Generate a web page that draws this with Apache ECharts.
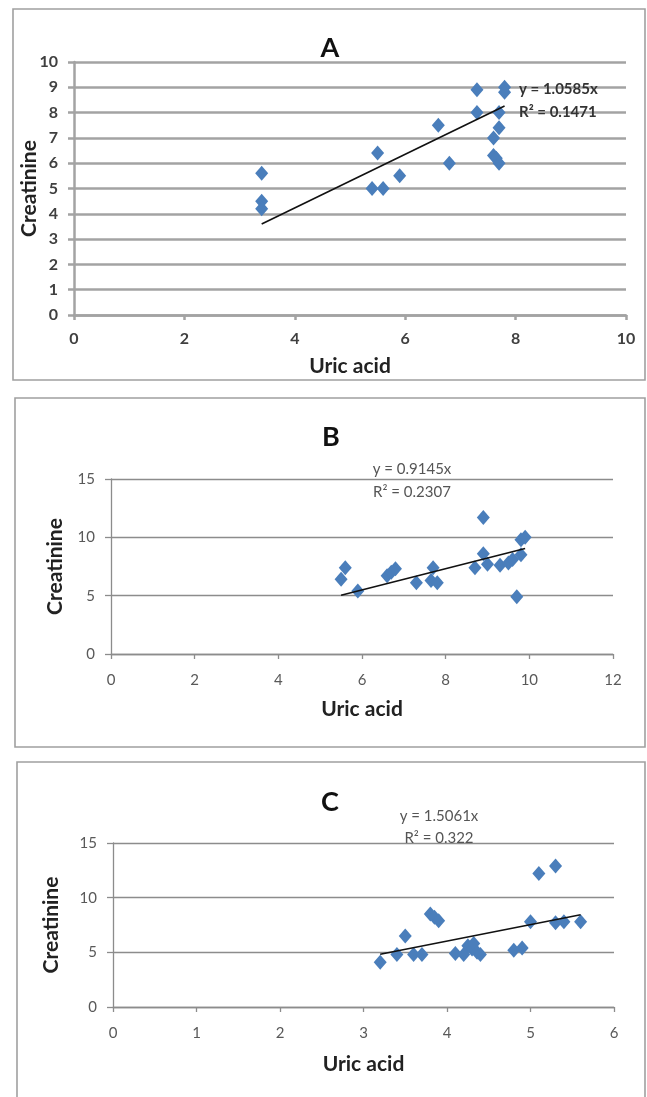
<!DOCTYPE html>
<html lang="en">
<head>
    <meta charset="utf-8"/>
    <script src="https://cdn.jsdelivr.net/npm/echarts@6/dist/echarts.min.js"></script>
    <style>
        html, body { margin: 0; padding: 0; background: #fff; }
        #main { width: 647px; height: 1097px; }
    </style>
</head>
<body>
<div id="main"></div>
<script>
    // panel A
    var uricA = [3.4, 3.4, 3.4, 5.5, 5.4, 5.6, 5.9, 6.6, 6.8, 7.3, 7.3, 7.8, 7.8, 7.7, 7.7, 7.6, 7.6, 7.65, 7.7];
    var creatA = [5.6, 4.5, 4.2, 6.4, 5.0, 5.0, 5.5, 7.5, 6.0, 8.9, 8.0, 9.0, 8.8, 8.0, 7.4, 7.0, 6.3, 6.2, 6.0];
    var trendA = [[3.4, 3.6], [7.8, 8.26]];
    // panel B
    var uricB = [5.5, 5.6, 5.9, 6.6, 6.7, 6.8, 7.3, 7.7, 7.65, 7.8, 8.7, 8.9, 8.9, 9.0, 9.3, 9.5, 9.6, 9.7, 9.8, 9.8, 9.9];
    var creatB = [6.4, 7.4, 5.4, 6.7, 7.0, 7.3, 6.1, 7.4, 6.3, 6.1, 7.4, 11.7, 8.6, 7.7, 7.6, 7.8, 8.1, 4.9, 8.5, 9.8, 10.0];
    var trendB = [[5.5, 5.03], [9.9, 9.05]];
    // panel C
    var uricC = [3.2, 3.4, 3.5, 3.6, 3.7, 3.8, 3.85, 3.9, 4.1, 4.2, 4.25, 4.3, 4.32, 4.36, 4.4, 4.8, 4.9, 5.0, 5.1, 5.3, 5.3, 5.4, 5.6];
    var creatC = [4.1, 4.8, 6.5, 4.8, 4.8, 8.5, 8.2, 7.9, 4.9, 4.8, 5.6, 5.3, 5.8, 5.0, 4.8, 5.2, 5.4, 7.8, 12.2, 12.9, 7.7, 7.8, 7.8];
    var trendC = [[3.2, 4.82], [5.6, 8.43]];

    var titles = ['A', 'B', 'C'];
    var equations = [['y = 1.0585x', 'R² = 0.1471'], ['y = 0.9145x', 'R² = 0.2307'], ['y = 1.5061x', 'R² = 0.322']];
    var xRange = [[0, 10, 2], [0, 12, 2], [0, 6, 1]];
    var yRange = [[0, 10, 1], [0, 15, 5], [0, 15, 5]];

    function pairs(xs, ys) {
        var out = [];
        for (var i = 0; i < xs.length; i++) out.push([xs[i], ys[i]]);
        return out;
    }

    var FONT = 'Lato, "Open Sans", sans-serif';
    var blue = '#4a7ebb';

    var grids = [
        {left: 74, top: 62, width: 552, height: 253},
        {left: 111, top: 479, width: 502, height: 175},
        {left: 113, top: 843, width: 501, height: 164}
    ];
    grids.forEach(function (g) { g.outerBoundsMode = 'none'; g.containLabel = false; });

    // A has bold darker labels and thick grid lines, B and C are plainer
    var labelStyle = [
        {color: '#404040', fontWeight: 'bold', fontSize: 16},
        {color: '#595959', fontWeight: 'normal', fontSize: 15},
        {color: '#595959', fontWeight: 'normal', fontSize: 15}
    ];
    var gridLine = [
        {color: '#a3a3a3', width: 2.5},
        {color: '#8c8c8c', width: 1.3},
        {color: '#8c8c8c', width: 1.3}
    ];
    var xNameGap = [41, 45, 47];
    var yNameGap = [34, 45, 51];

    var xAxes = [], yAxes = [];
    for (var i = 0; i < 3; i++) {
        xAxes.push({
            type: 'value', gridIndex: i,
            min: xRange[i][0], max: xRange[i][1], interval: xRange[i][2],
            name: 'Uric acid', nameLocation: 'middle', nameGap: xNameGap[i], nameMoveOverlap: false,
            nameTextStyle: {fontFamily: FONT, fontWeight: 'bold', fontSize: 21, color: '#222'},
            axisLine: {show: true, lineStyle: {color: gridLine[i].color, width: gridLine[i].width}},
            axisTick: {show: true, length: 5, lineStyle: {color: gridLine[i].color, width: gridLine[i].width}},
            axisLabel: {margin: i === 0 ? 16 : 19, fontFamily: FONT, fontSize: labelStyle[i].fontSize,
                fontWeight: labelStyle[i].fontWeight, color: labelStyle[i].color},
            splitLine: {show: false}
        });
        yAxes.push({
            type: 'value', gridIndex: i,
            min: yRange[i][0], max: yRange[i][1], interval: yRange[i][2],
            name: 'Creatinine', nameLocation: 'middle', nameGap: yNameGap[i], nameMoveOverlap: false,
            nameTextStyle: {fontFamily: FONT, fontWeight: 'bold', fontSize: 21, color: '#222'},
            axisLine: {show: true, lineStyle: {color: gridLine[i].color, width: gridLine[i].width}},
            axisTick: {show: true, length: 6, lineStyle: {color: gridLine[i].color, width: gridLine[i].width}},
            axisLabel: {margin: 16, fontFamily: FONT, fontSize: labelStyle[i].fontSize,
                fontWeight: labelStyle[i].fontWeight, color: labelStyle[i].color},
            splitLine: {show: true, lineStyle: {color: gridLine[i].color, width: gridLine[i].width}}
        });
    }

    var scatterData = [pairs(uricA, creatA), pairs(uricB, creatB), pairs(uricC, creatC)];
    var trends = [trendA, trendB, trendC];
    var series = [];
    for (var k = 0; k < 3; k++) {
        series.push({
            type: 'scatter', xAxisIndex: k, yAxisIndex: k,
            symbol: 'diamond', symbolSize: [13, 15],
            itemStyle: {color: blue, opacity: 1},
            data: scatterData[k], z: 3
        });
        series.push({
            type: 'line', xAxisIndex: k, yAxisIndex: k,
            data: trends[k], symbol: 'none', silent: true,
            lineStyle: {color: '#111', width: 1.6}, z: 4
        });
    }

    // frames, titles and trendline equations
    var frames = [[13, 9, 632, 371], [15, 398, 630, 349], [17, 762, 628, 360]];
    var titlePos = [[330, 48], [331, 437], [330, 802]];
    var graphics = [];
    frames.forEach(function (f) {
        graphics.push({type: 'rect', shape: {x: f[0], y: f[1], width: f[2], height: f[3]},
            style: {fill: 'none', stroke: '#a0a0a0', lineWidth: 1.6}, silent: true});
    });
    titles.forEach(function (t, j) {
        graphics.push({type: 'text', x: titlePos[j][0], y: titlePos[j][1],
            style: {text: t, font: 'bold 27px ' + FONT, fill: '#111', textAlign: 'center', textVerticalAlign: 'middle'}});
    });
    var eqPos = [[519, 89, 112, 'left'], [412, 469, 492, 'center'], [439, 816, 838, 'center']];
    equations.forEach(function (e, j) {
        var p = eqPos[j];
        var font = (j === 0 ? 'bold ' : '') + '15px ' + FONT;
        var col = j === 0 ? '#333' : '#555';
        graphics.push({type: 'text', x: p[0], y: p[1], z: 10,
            style: {text: e[0], font: font, fill: col, textAlign: p[3], textVerticalAlign: 'middle'}});
        graphics.push({type: 'text', x: p[0], y: p[2], z: 10,
            style: {text: e[1], font: font, fill: col, textAlign: p[3], textVerticalAlign: 'middle'}});
    });

    var chart = echarts.init(document.getElementById('main'));
    chart.setOption({
        backgroundColor: '#fff',
        animation: false,
        grid: grids,
        xAxis: xAxes,
        yAxis: yAxes,
        series: series,
        graphic: graphics
    });
</script>
</body>
</html>
